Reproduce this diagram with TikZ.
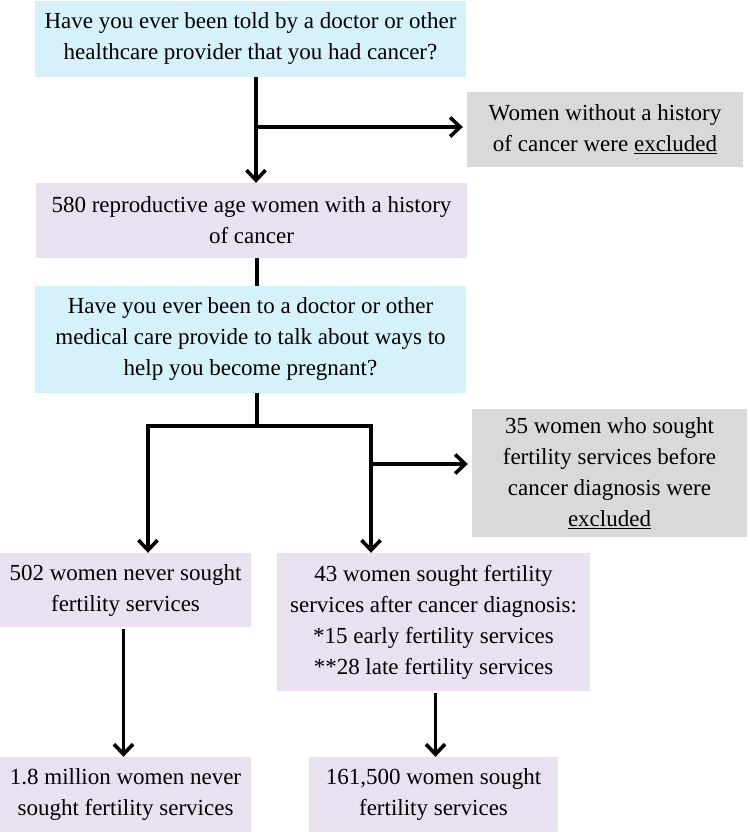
\documentclass[tikz,border=0pt]{standalone}
\usepackage{fontspec}
\setmainfont{Liberation Serif}
\usetikzlibrary{arrows.meta, positioning, calc}

\definecolor{askblue}{RGB}{213,242,250}
\definecolor{cohortpurple}{RGB}{233,224,240}
\definecolor{dropgray}{RGB}{217,217,217}

\begin{document}
\begin{tikzpicture}[x=1pt, y=-1pt, >={Straight Barb[length=10pt, width=19pt]},
    font=\rmfamily\fontsize{23}{31}\selectfont,
    box/.style={inner sep=0pt, align=center},
    askbox/.style={box, fill=askblue, minimum width=431pt},
    cohortbox/.style={box, fill=cohortpurple},
    dropbox/.style={box, fill=dropgray},
    flow/.style={line width=3.6pt}]

    \useasboundingbox (0,0) rectangle (749,834);

    % Screening for cancer history
    \node[askbox, minimum height=76pt] (q1) at (250.5,39)
        {Have you ever been told by a doctor or other\\ healthcare provider that you had cancer?};
    \node[dropbox, minimum width=276pt, minimum height=75pt] (ex1) at (605,129.5)
        {Women without a history\\ of cancer were \underline{excluded}};
    \node[cohortbox, minimum width=431pt, minimum height=75pt] (n580) at (251.5,220.5)
        {580 reproductive age women with a history\\ of cancer};

    % Fertility services question
    \node[askbox, minimum height=107pt] (q2) at (250.5,339.5)
        {Have you ever been to a doctor or other\\ medical care provide to talk about ways to\\ help you become pregnant?};
    \node[dropbox, minimum width=275pt, minimum height=128pt] (ex2) at (609.5,473)
        {35 women who sought\\ fertility services before\\ cancer diagnosis were\\ \underline{excluded}};

    % Sample groups
    \node[cohortbox, minimum width=251pt, minimum height=74pt] (n502) at (125.5,590)
        {502 women never sought\\ fertility services};
    \node[cohortbox, minimum width=313pt, minimum height=138pt] (n43) at (433.5,622)
        {43 women sought fertility\\ services after cancer diagnosis:\\ *15 early fertility services\\ **28 late fertility services};

    % Weighted estimates
    \node[cohortbox, minimum width=251pt, minimum height=75pt] (n18) at (125.5,794.5)
        {1.8 million women never\\ sought fertility services};
    \node[cohortbox, minimum width=249pt, minimum height=75pt] (n161) at (433.5,794.5)
        {161,500 women sought\\ fertility services};

    % Split points
    \coordinate (s1) at (256,127);
    \coordinate (s2) at (257,426);
    \coordinate (lsplit) at (148,426);
    \coordinate (rsplit) at (371,426);
    \coordinate (rside) at (371,464);

    % Connectors
    \draw[flow, ->] (s1 |- q1.south) -- (s1 |- n580.north);
    \draw[flow, ->] (s1) -- ($(s1 -| ex1.west) + (-4,0)$);
    \draw[flow] (s2 |- n580.south) -- (s2 |- q2.north);
    \draw[flow] (s2 |- q2.south) -- (s2);
    \draw[flow, ->] (s2) -- (lsplit) -- (lsplit |- n502.north);
    \draw[flow, ->] (s2) -- (rsplit) -- (rsplit |- n43.north);
    \draw[flow, ->] (rside) -- ($(rside -| ex2.west) + (-4,0)$);
    \draw[flow, ->] ($(n502.south) + (-2,2)$) -- ($(n18.north) + (-2,0)$);
    \draw[flow, ->] ($(n43.south) + (2,2)$) -- ($(n161.north) + (2,0)$);

\end{tikzpicture}
\end{document}
